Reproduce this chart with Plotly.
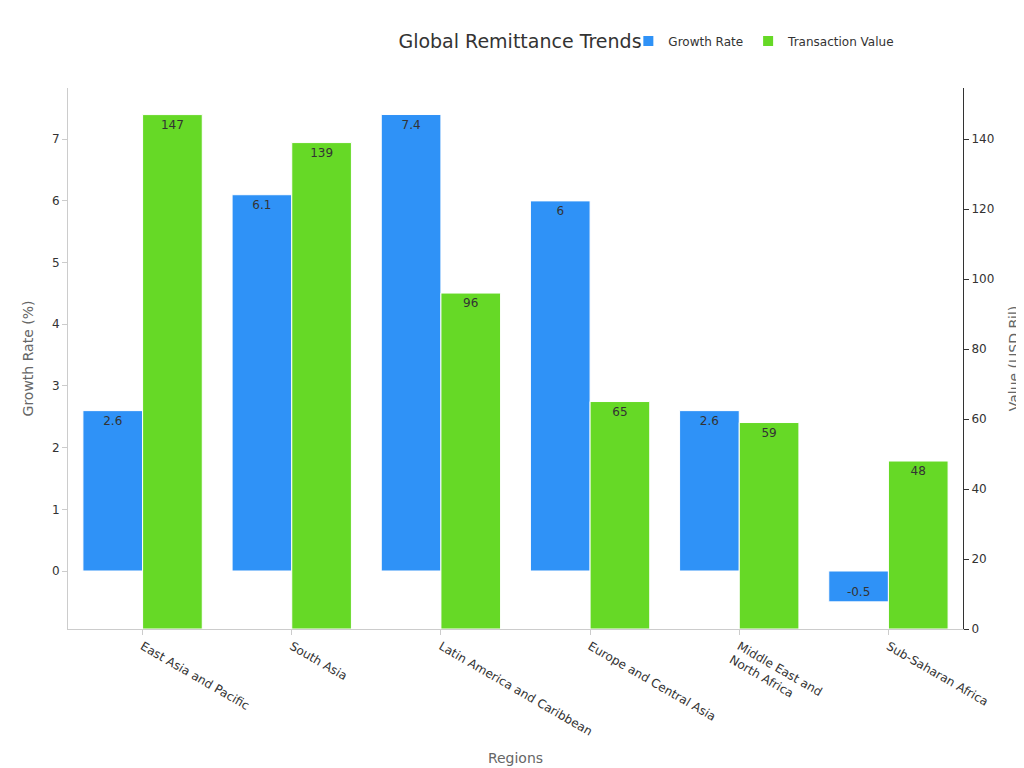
import plotly.graph_objects as go

regions = ["East Asia and Pacific", "South Asia", "Latin America and Caribbean",
           "Europe and Central Asia", "Middle East and<br>North Africa", "Sub-Saharan Africa"]
growth = [2.6, 6.1, 7.4, 6, 2.6, -0.5]
value = [147, 139, 96, 65, 59, 48]

fig = go.Figure()
fig.add_bar(x=regions, y=growth, name="Growth Rate", marker_color="#2f92f7",
            marker_line_color="white", marker_line_width=1,
            text=[str(g) for g in growth], textposition="inside", insidetextanchor="end",
            textfont=dict(color="#333", size=12), offsetgroup="a", yaxis="y")
fig.add_bar(x=regions, y=value, name="Transaction Value", marker_color="#66d926",
            marker_line_color="white", marker_line_width=1,
            text=[str(v) for v in value], textposition="inside", insidetextanchor="end",
            textfont=dict(color="#333", size=12), offsetgroup="b", yaxis="y2")

axcol = "#666"
fig.update_layout(
    width=1024, height=768, plot_bgcolor="white", paper_bgcolor="white",
    font=dict(family="DejaVu Sans", color="#333"),
    title=dict(text="Global Remittance Trends", x=0.5, y=0.965, xanchor="center",
               font=dict(size=19, color="#333")),
    margin=dict(l=60, r=69, t=80, b=147),
    barmode="group", bargap=0.2, bargroupgap=0,
    legend=dict(orientation="h", x=0.93, xanchor="right", y=1.06, yanchor="bottom",
                font=dict(size=12), itemsizing="constant"),
    xaxis=dict(title=dict(text="Regions", font=dict(size=14, color=axcol)), tickangle=30,
               showline=True, linecolor="#ccc", ticks="outside", tickcolor="#ccc",
               tickfont=dict(size=12)),
    yaxis=dict(title=dict(text="Growth Rate (%)", font=dict(size=14, color=axcol)),
               range=[-0.94, 7.83], dtick=1, showgrid=False, zeroline=False,
               showline=True, linecolor="#ccc", ticks="outside", tickcolor="#ccc",
               tickfont=dict(size=12)),
    yaxis2=dict(title=dict(text="Value (USD Bil)", font=dict(size=14, color=axcol)),
                overlaying="y", side="right", range=[0, 154.6], dtick=20, showgrid=False,
                zeroline=False, showline=True, linecolor="#333", ticks="outside",
                tickcolor="#333", tickfont=dict(size=12)),
)
fig.write_html("out.html")
